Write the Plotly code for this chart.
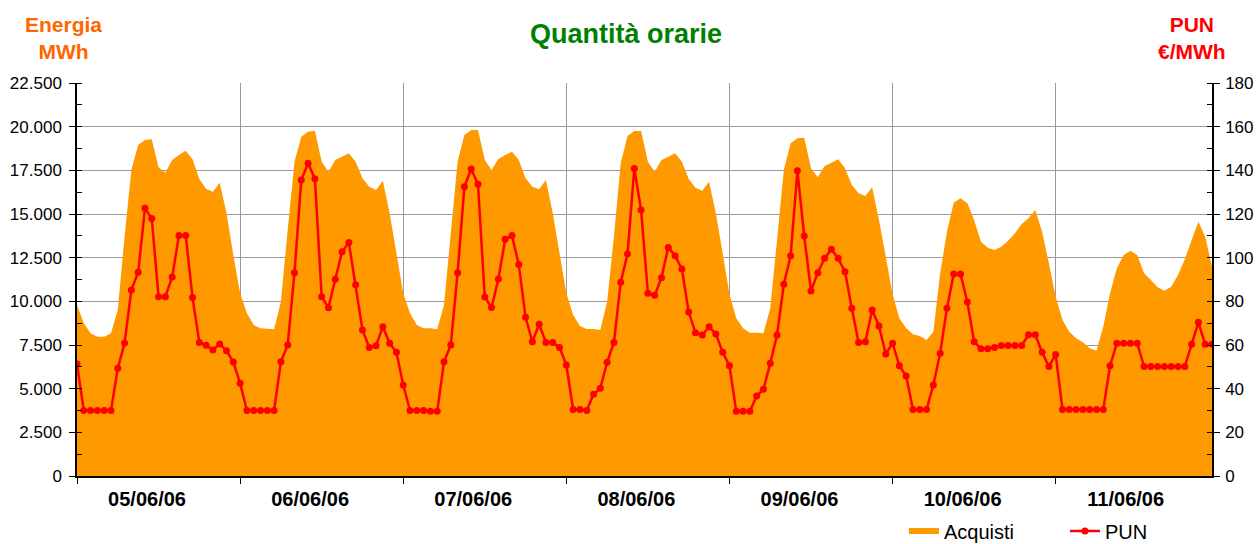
import plotly.graph_objects as go

# ---- data (hourly, 7 days x 24 h) ----
days = ["05/06/06", "06/06/06", "07/06/06", "08/06/06", "09/06/06", "10/06/06", "11/06/06"]

acquisti_d1 = [9790, 8740, 8170, 7975, 7975, 8170, 9500, 13700, 17519, 18950, 19236, 19274,
               17671, 17366, 18091, 18377, 18625, 18129, 17003, 16431, 16278, 16793, 15037, 12652]
acquisti_d2 = [10458, 9313, 8645, 8454, 8435, 8397, 9980, 14083, 17996, 19427, 19713, 19770,
               17996, 17423, 18091, 18282, 18473, 17996, 17041, 16564, 16374, 16908, 15037, 12748]
acquisti_d3 = [10458, 9313, 8645, 8454, 8454, 8397, 9790, 13892, 17996, 19522, 19809, 19809,
               18091, 17519, 18148, 18377, 18568, 18091, 17041, 16564, 16412, 16946, 15037, 12748]
acquisti_d4 = [10458, 9218, 8588, 8416, 8416, 8359, 9980, 13700, 17900, 19465, 19752, 19752,
               17996, 17423, 18091, 18282, 18473, 17996, 17003, 16507, 16335, 16851, 15037, 12748]
acquisti_d5 = [10400, 9027, 8454, 8206, 8206, 8168, 9599, 13510, 17519, 19045, 19332, 19370,
               17614, 17099, 17748, 17939, 18129, 17614, 16660, 16183, 16030, 16526, 14656, 12557]
acquisti_d6 = [10400, 9027, 8454, 8110, 8015, 7786, 8263, 11600, 13987, 15648, 15897, 15610,
               14656, 13415, 13071, 12938, 13128, 13472, 13892, 14427, 14751, 15228, 13987, 12175]
acquisti_d7 = [10267, 8931, 8263, 7881, 7652, 7309, 7175, 8549, 10458, 11890, 12653, 12901,
               12653, 11603, 11221, 10801, 10610, 10839, 11507, 12404, 13510, 14560, 13701, 11985]

pun_d1 = [51.3, 30, 30, 30, 30, 30, 49.3, 60.9, 85.2, 93.3, 122.6, 117.9,
          82.1, 82.1, 91.1, 110.2, 110.2, 81.7, 61.1, 59.9, 57.7, 60.5, 57.4, 52.2]
pun_d2 = [42.5, 30, 30, 30, 30, 30, 52.3, 60, 93.1, 135.6, 143.2, 136.2,
          82.1, 77.1, 90.1, 102.7, 106.9, 87.6, 66.9, 58.9, 59.7, 68.4, 60.8, 56.7]
pun_d3 = [41.7, 30, 30, 30, 29.6, 29.6, 52.3, 60, 93.1, 132.5, 140.6, 133.6,
          82, 77.2, 90.2, 108.4, 110.1, 96.9, 72.7, 61.5, 69.5, 61.1, 61.1, 58.9]
pun_d4 = [50.8, 30.5, 30.5, 30, 37.4, 40.2, 52.1, 61.2, 88.7, 101.7, 140.8, 121.8,
          83.7, 82.8, 90.8, 104.7, 100.9, 94.8, 75.1, 65.6, 64.6, 68.4, 65, 56.7]
pun_d5 = [50.5, 29.6, 29.6, 29.6, 36.6, 39.7, 51.6, 64.6, 87.8, 100.9, 139.8, 109.9,
          84.7, 93.1, 99.7, 103.8, 99.7, 93.6, 76.8, 61.1, 61.5, 76, 68.7, 55.9]
pun_d6 = [60.8, 50.5, 45.8, 30.5, 30.5, 30.5, 41.7, 56.2, 76.8, 92.5, 92.5, 79.7,
          61.5, 58.3, 58.3, 58.9, 59.8, 59.8, 59.8, 59.8, 64.7, 64.7, 56.7, 50.1]
pun_d7 = [55.7, 30.5, 30.5, 30.5, 30.5, 30.5, 30.5, 30.5, 50.5, 60.8, 60.8, 60.8,
          60.8, 50.1, 50.1, 50.1, 50.1, 50.1, 50.1, 50.1, 60.3, 70.4, 60.3, 60.3]

acquisti = (acquisti_d1 + acquisti_d2 + acquisti_d3 + acquisti_d4 +
            acquisti_d5 + acquisti_d6 + acquisti_d7)
pun = pun_d1 + pun_d2 + pun_d3 + pun_d4 + pun_d5 + pun_d6 + pun_d7
hours = list(range(len(pun)))

FONT = "Liberation Sans, Arial, sans-serif"
GRID = "#9a9a9a"

fig = go.Figure()
fig.add_trace(go.Scatter(
    x=hours, y=acquisti, name="Acquisti", mode="none",
    fill="tozeroy", fillcolor="#FF9900", yaxis="y"))
fig.add_trace(go.Scatter(
    x=hours, y=pun, name="PUN", mode="lines+markers",
    line=dict(color="#FF0000", width=2.5),
    marker=dict(color="#FF0000", size=7), yaxis="y2"))

label_pos = [10.3 + 24 * k for k in range(len(days))]
day_lines = [24 * k for k in range(len(days) + 1)]

fig.update_layout(
    width=1256, height=544,
    margin=dict(l=77, r=44, t=83, b=68, autoexpand=False),
    paper_bgcolor="white", plot_bgcolor="white",
    separators=",.",
    font=dict(family=FONT, size=17, color="black"),
    showlegend=True,
    legend=dict(orientation="h", x=0.7286, y=(476 - 531) / 393, xanchor="left", yanchor="middle",
                font=dict(family=FONT, size=20, color="black"),
                entrywidth=116, entrywidthmode="pixels",
                bgcolor="rgba(0,0,0,0)"),
    xaxis=dict(
        range=[0, len(pun) - 1],
        tickmode="array", tickvals=label_pos, ticktext=days,
        ticks="", showgrid=False,
        tickfont=dict(family=FONT, size=20, color="black", weight="bold"),
        ticklabelstandoff=4,
        showline=True, linecolor="black", linewidth=1.5,
        zeroline=False,
        minor=dict(tickmode="array", tickvals=day_lines, ticks="outside",
                   ticklen=6, tickcolor="black", showgrid=True,
                   gridcolor=GRID, gridwidth=1),
    ),
    yaxis=dict(
        range=[0, 22500], tickmode="linear", tick0=0, dtick=2500,
        tickformat=",d", showgrid=True, gridcolor=GRID, gridwidth=1,
        showline=True, linecolor="black", linewidth=1.5,
        ticks="outside", ticklen=6, tickcolor="black",
        ticklabelstandoff=4, zeroline=False,
        tickfont=dict(family=FONT, size=17, color="black"),
        minor=dict(dtick=1250, ticks="inside", ticklen=5, tickcolor="black", showgrid=False),
    ),
    yaxis2=dict(
        range=[0, 180], tickmode="linear", tick0=0, dtick=20,
        overlaying="y", side="right", showgrid=False,
        showline=True, linecolor="black", linewidth=1.5,
        ticks="outside", ticklen=6, tickcolor="black",
        ticklabelstandoff=2, zeroline=False,
        tickfont=dict(family=FONT, size=17, color="black"),
        minor=dict(dtick=10, ticks="inside", ticklen=5, tickcolor="black", showgrid=False),
    ),
    title=dict(text="<b>Quantità orarie</b>", x=626 / 1256, xanchor="center",
               xref="container", y=1 - 34 / 544, yanchor="middle", yref="container",
               font=dict(family=FONT, size=27, color="#008000")),
    annotations=[
        dict(text="<b>Energia<br>MWh</b>", xref="paper", yref="paper",
             x=(63 - 77) / 1135, y=(476 - 38) / 393, xanchor="center", yanchor="middle",
             showarrow=False, font=dict(family=FONT, size=21, color="#FF6600")),
        dict(text="<b>PUN<br>€/MWh</b>", xref="paper", yref="paper",
             x=(1192 - 77) / 1135, y=(476 - 38) / 393, xanchor="center", yanchor="middle",
             showarrow=False, font=dict(family=FONT, size=21, color="#FF0000")),
    ],
)

fig.write_html(
    "out.html",
    config={"displayModeBar": False},
    post_script="document.body.style.margin='0px';document.body.style.overflow='hidden';",
)
